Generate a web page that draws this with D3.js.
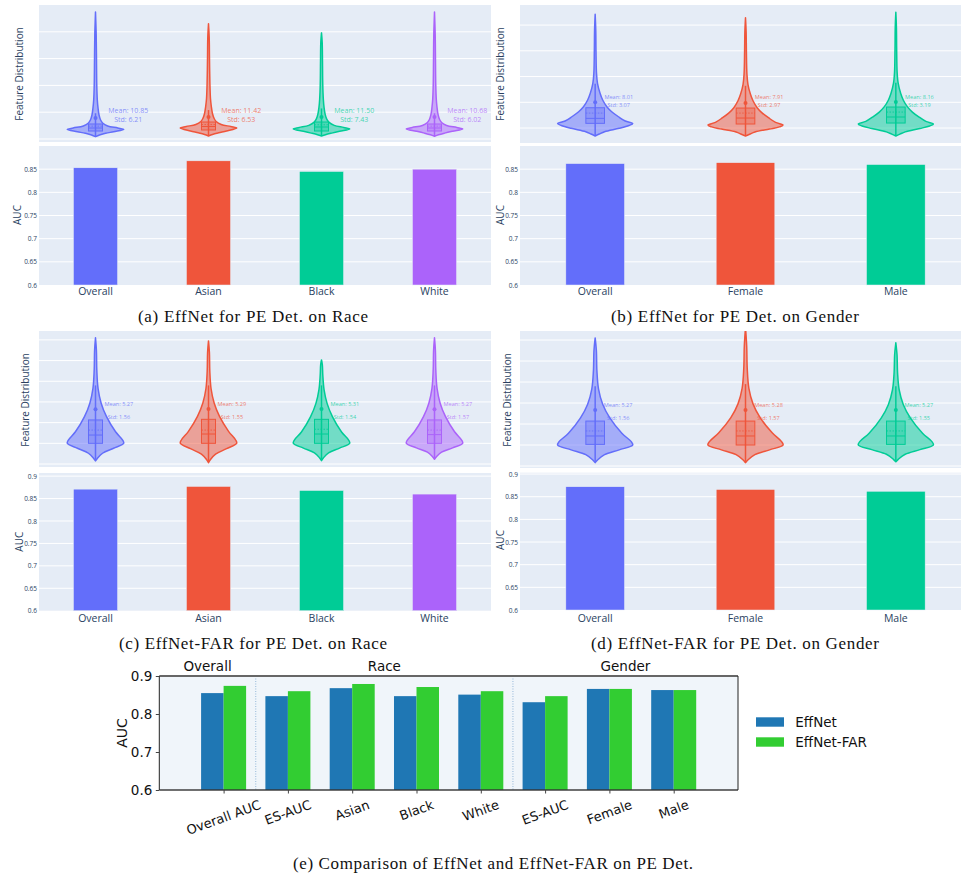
<!DOCTYPE html>
<html>
<head>
<meta charset="utf-8">
<script src="https://cdn.jsdelivr.net/npm/d3@7"></script>
<style>
body { margin: 0; background: #fff; }
svg { display: block; }
</style>
</head>
<body>
<script>
// ---- data ----
const pal = ["#636EFA", "#EF553B", "#00CC96", "#AB63FA"];

const catsRace = ["Overall", "Asian", "Black", "White"];
const catsGender = ["Overall", "Female", "Male"];

const aucA = [0.853, 0.868, 0.845, 0.850];
const aucB = [0.862, 0.864, 0.860];
const aucC = [0.871, 0.877, 0.868, 0.860];
const aucD = [0.872, 0.866, 0.862];

const meanA = ["10.85", "11.42", "11.50", "10.68"];
const stdA = ["6.21", "6.53", "7.43", "6.02"];
const meanB = ["8.01", "7.91", "8.16"];
const stdB = ["3.07", "2.97", "3.19"];
const meanC = ["5.27", "5.29", "5.31", "5.27"];
const stdC = ["1.56", "1.55", "1.54", "1.57"];
const meanD = ["5.27", "5.28", "5.27"];
const stdD = ["1.56", "1.57", "1.55"];

// violin outlines: [feature value, relative density]
const shapeA = [
  [[0.43,0],[0.75,0.14],[1.06,0.36],[1.36,0.64],[1.77,1],[2.05,0.79],[2.43,0.43],[2.99,0.25],[3.54,0.18],[4.48,0.125],[5.78,0.09],[7.28,0.064],[10.07,0.045],[14.74,0.035],[19.4,0.025],[23.7,0]],
  [[0.56,0],[0.84,0.14],[1.15,0.36],[1.49,0.64],[2.05,1],[2.33,0.79],[2.71,0.45],[3.27,0.27],[3.82,0.2],[4.76,0.14],[6.06,0.1],[7.56,0.07],[10.3,0.05],[15,0.035],[19,0.025],[21.5,0]],
  [[0.56,0],[0.8,0.14],[1.1,0.36],[1.45,0.64],[1.87,1],[2.15,0.79],[2.55,0.45],[3.1,0.27],[3.65,0.19],[4.6,0.13],[5.9,0.09],[7.4,0.065],[10.1,0.045],[14.5,0.035],[18,0.025],[19.8,0]],
  [[0.5,0],[0.78,0.14],[1.1,0.36],[1.45,0.64],[1.87,1],[2.15,0.79],[2.53,0.43],[3.09,0.25],[3.64,0.18],[4.58,0.125],[5.88,0.09],[7.38,0.064],[10.1,0.045],[14.7,0.035],[19.4,0.025],[23.7,0]]
];
const shapeB = [
  [[-1.55,0],[-1.17,0.11],[-0.72,0.25],[-0.06,0.64],[0.49,0.9],[0.87,1],[1.36,0.8],[2.19,0.62],[3.17,0.44],[4.14,0.31],[5.44,0.2],[6.74,0.13],[8.68,0.062],[10.7,0.035],[15.1,0.022],[19,0.016],[22.1,0]],
  [[-1.55,0],[-1.2,0.11],[-0.78,0.25],[-0.2,0.64],[0.22,0.9],[0.58,1],[1.1,0.8],[1.95,0.62],[2.95,0.44],[3.95,0.31],[5.3,0.2],[6.6,0.13],[8.5,0.065],[10.5,0.038],[14.8,0.024],[18.6,0.017],[21.4,0]],
  [[-1.55,0],[-1.18,0.11],[-0.75,0.25],[-0.1,0.64],[0.4,0.9],[0.78,1],[1.28,0.8],[2.12,0.62],[3.1,0.44],[4.1,0.31],[5.4,0.2],[6.7,0.13],[8.7,0.062],[10.8,0.035],[15.4,0.022],[19.5,0.016],[22.5,0]]
];
const shapeC = [
  [[0.15,0],[0.28,0.07],[0.52,0.25],[0.76,0.64],[1.0,1],[1.16,0.96],[1.56,0.71],[2.29,0.39],[2.94,0.2],[3.66,0.09],[4.55,0.046],[5.5,0.032],[6.1,0]],
  [[0.06,0],[0.22,0.07],[0.48,0.25],[0.74,0.64],[1.0,1],[1.16,0.96],[1.58,0.71],[2.3,0.39],[2.95,0.2],[3.65,0.09],[4.5,0.046],[5.4,0.032],[5.95,0]],
  [[0.16,0],[0.3,0.07],[0.54,0.25],[0.77,0.64],[1.0,1],[1.16,0.96],[1.55,0.71],[2.28,0.39],[2.92,0.2],[3.6,0.09],[4.3,0.046],[4.8,0.03],[5.03,0]],
  [[0.23,0],[0.35,0.07],[0.57,0.25],[0.78,0.64],[1.0,1],[1.16,0.96],[1.56,0.71],[2.29,0.39],[2.94,0.2],[3.66,0.09],[4.55,0.046],[5.5,0.032],[6.1,0]]
];
const shapeD = [
  [[0.16,0],[0.3,0.07],[0.54,0.25],[0.77,0.64],[1.0,1],[1.16,0.96],[1.56,0.71],[2.29,0.39],[2.94,0.2],[3.66,0.09],[4.55,0.046],[5.5,0.032],[6.1,0]],
  [[0.16,0],[0.3,0.07],[0.54,0.25],[0.77,0.64],[1.0,1],[1.16,0.96],[1.58,0.71],[2.3,0.39],[2.96,0.2],[3.7,0.09],[4.65,0.046],[5.7,0.032],[6.6,0]],
  [[0.2,0],[0.33,0.07],[0.56,0.25],[0.78,0.64],[1.0,1],[1.16,0.96],[1.56,0.71],[2.28,0.39],[2.92,0.2],[3.62,0.09],[4.45,0.046],[5.3,0.032],[5.87,0]]
];

// box stats: [lower whisker, q1, median, mean line, q3, upper whisker, mean dot]
const boxA = [
  [0.5, 1.49, 2.05, 2.4, 2.8, 4.8, 3.9],
  [0.6, 1.68, 2.33, 2.7, 3.17, 5.4, 4.1],
  [0.6, 1.49, 2.24, 2.65, 3.17, 5.7, 4.1],
  [0.55, 1.49, 2.05, 2.4, 2.8, 4.8, 4.1]
];
const boxB = [
  [-1.5, 0.91, 1.88, 2.9, 3.94, 8.6, 4.99],
  [-1.5, 0.78, 1.94, 2.9, 3.88, 8.2, 4.85],
  [-1.5, 0.97, 2.14, 3.1, 4.08, 8.8, 5.05]
];
const boxC = [
  [0.2, 1.0, 1.4, 1.64, 2.13, 3.8, 2.65],
  [0.1, 1.0, 1.45, 1.64, 2.16, 3.8, 2.66],
  [0.2, 1.0, 1.45, 1.68, 2.16, 3.8, 2.66],
  [0.25, 1.0, 1.42, 1.64, 2.13, 3.8, 2.65]
];
const boxD = [
  [0.2, 1.03, 1.43, 1.67, 2.14, 3.8, 2.67],
  [0.15, 1.0, 1.43, 1.67, 2.14, 3.9, 2.67],
  [0.2, 1.03, 1.43, 1.67, 2.14, 3.8, 2.67]
];

const ticks85 = [0.6, 0.65, 0.7, 0.75, 0.8, 0.85];
const ticks90 = [0.6, 0.65, 0.7, 0.75, 0.8, 0.85, 0.9];

// panel (e)
const cmpCats = ["Overall AUC", "ES-AUC", "Asian", "Black", "White", "ES-AUC", "Female", "Male"];
const effnet = [0.855, 0.847, 0.868, 0.847, 0.851, 0.831, 0.866, 0.863];
const effnetFar = [0.874, 0.860, 0.879, 0.871, 0.860, 0.847, 0.866, 0.863];
const groupNames = ["Overall", "Race", "Gender"];
const groupCenters = [-0.25, 2.5, 6.25];
const groupSplits = [0.5, 4.5];
const cmpTicks = [0.6, 0.7, 0.8, 0.9];

const W = 961, H = 875;
const svg = d3.select("body").append("svg").attr("width", W).attr("height", H);

const plFont = "'Open Sans', verdana, arial, sans-serif";
const plText = "#2a3f5f";
const plBg = "#E5ECF6";

let clipN = 0;

function plotlyPanel(p) {
  const g = svg.append("g");
  const xb = d3.scaleBand().domain(p.cats).range([p.x0, p.x1]);
  const bw = xb.bandwidth();
  const cx = i => xb(p.cats[i]) + bw / 2;

  // ---- violin subplot ----
  const yv = d3.scaleLinear().domain(p.vdom).range([p.vy1, p.vy0]);
  const wv = d3.scaleLinear().domain([0, 1]).range([0, bw * 0.25]);

  g.append("rect").attr("x", p.x0).attr("y", p.vy0)
    .attr("width", p.x1 - p.x0).attr("height", p.vy1 - p.vy0).attr("fill", plBg);
  g.selectAll(".vgrid").data(p.vgrid).enter().append("line")
    .attr("x1", p.x0).attr("x2", p.x1)
    .attr("y1", d => yv(d)).attr("y2", d => yv(d))
    .attr("stroke", "#fff").attr("stroke-width", 1);

  const cid = "clip" + (clipN++);
  g.append("clipPath").attr("id", cid).append("rect")
    .attr("x", p.x0).attr("y", p.vy0).attr("width", p.x1 - p.x0).attr("height", p.vy1 - p.vy0);
  const vg = g.append("g").attr("clip-path", "url(#" + cid + ")");

  p.shapes.forEach((shape, i) => {
    const col = pal[i];
    const c = cx(i);
    const area = d3.area().curve(d3.curveCatmullRom)
      .y(d => yv(d[0])).x0(d => c - wv(d[1])).x1(d => c + wv(d[1]));
    vg.append("path").attr("d", area(shape))
      .attr("fill", col).attr("fill-opacity", 0.5)
      .attr("stroke", col).attr("stroke-width", 1.5).attr("stroke-linejoin", "round");

    const b = p.boxes[i];
    const hw = bw * 0.062;
    vg.append("line").attr("x1", c).attr("x2", c)
      .attr("y1", yv(b[0])).attr("y2", yv(b[5]))
      .attr("stroke", col).attr("stroke-width", 1.5);
    vg.append("rect").attr("x", c - hw).attr("width", hw * 2)
      .attr("y", yv(b[4])).attr("height", yv(b[1]) - yv(b[4]))
      .attr("fill", col).attr("fill-opacity", 0.35)
      .attr("stroke", col).attr("stroke-width", 1);
    vg.append("line").attr("x1", c - hw).attr("x2", c + hw)
      .attr("y1", yv(b[2])).attr("y2", yv(b[2]))
      .attr("stroke", col).attr("stroke-width", 1);
    vg.append("line").attr("x1", c - hw).attr("x2", c + hw)
      .attr("y1", yv(b[3])).attr("y2", yv(b[3]))
      .attr("stroke", col).attr("stroke-width", 0.8).attr("stroke-dasharray", "1.5,1.5");
    vg.append("circle").attr("cx", c).attr("cy", yv(b[6])).attr("r", 2)
      .attr("fill", col);

    // mean / std annotation
    const a = p.ann;
    const ax = c + bw * a.dx, ay = yv(a.y);
    const t = g.append("text").attr("text-anchor", "middle")
      .attr("font-family", plFont).attr("font-size", a.fs + "px")
      .attr("fill", col).attr("fill-opacity", 0.75);
    t.append("tspan").attr("x", ax).attr("y", ay - a.gap / 2).attr("dy", "0.35em").text("Mean: " + p.means[i]);
    t.append("tspan").attr("x", ax).attr("y", ay + a.gap / 2).attr("dy", "0.35em").text("Std: " + p.stds[i]);
  });

  g.append("text").attr("transform", `translate(${p.fdX},${p.fdY}) rotate(-90)`)
    .attr("text-anchor", "middle").attr("dy", "0.35em")
    .attr("font-family", plFont).attr("font-size", "10px").attr("fill", plText)
    .text("Feature Distribution");

  // ---- bar subplot ----
  const yb = d3.scaleLinear().domain(p.bdom).range([p.by1, p.by0]);
  g.append("rect").attr("x", p.x0).attr("y", p.by0)
    .attr("width", p.x1 - p.x0).attr("height", p.by1 - p.by0).attr("fill", plBg);
  g.selectAll(".bgrid").data(p.bticks.filter(t => t > p.bdom[0])).enter().append("line")
    .attr("x1", p.x0).attr("x2", p.x1)
    .attr("y1", d => yb(d)).attr("y2", d => yb(d))
    .attr("stroke", "#fff").attr("stroke-width", 1);

  g.selectAll(".bar").data(p.auc).enter().append("rect")
    .attr("x", (d, i) => cx(i) - bw * 0.195).attr("width", bw * 0.39)
    .attr("y", d => yb(d)).attr("height", d => yb(p.bdom[0]) - yb(d))
    .attr("fill", (d, i) => pal[i])
    .attr("stroke", plBg).attr("stroke-width", 0.5);

  const yAx = g.append("g").attr("transform", `translate(${p.x0},0)`)
    .call(d3.axisLeft(yb).tickValues(p.bticks).tickSize(0).tickPadding(2).tickFormat(d => String(d)));
  yAx.select(".domain").remove();
  yAx.selectAll("text").attr("font-family", plFont).attr("font-size", "6.5px").attr("fill", plText);

  const xAx = g.append("g").attr("transform", `translate(0,${p.by1})`)
    .call(d3.axisBottom(xb).tickSize(0).tickPadding(0));
  xAx.select(".domain").remove();
  xAx.selectAll("text").attr("font-family", plFont).attr("font-size", "10.5px").attr("fill", plText)
    .attr("y", p.catDy).attr("dy", "0.35em");

  g.append("text").attr("transform", `translate(${p.aucX},${p.aucY}) rotate(-90)`)
    .attr("text-anchor", "middle").attr("dy", "0.35em")
    .attr("font-family", plFont).attr("font-size", "10px").attr("fill", plText)
    .text("AUC");

  caption(p.caption, p.capX, p.capY, p.capW);
}

function caption(txt, x, y, w) {
  svg.append("text").attr("x", x - w / 2).attr("y", y)
    .attr("textLength", w).attr("lengthAdjust", "spacing")
    .attr("font-family", "'Liberation Serif', 'Times New Roman', serif")
    .attr("font-size", "17px").attr("fill", "#111")
    .text(txt);
}

plotlyPanel({
  cats: catsRace, auc: aucA, shapes: shapeA, boxes: boxA, means: meanA, stds: stdA,
  x0: 39, x1: 491, vy0: 5, vy1: 142, vdom: [-0.56, 25], vgrid: [0, 5, 10, 15, 20],
  by0: 146, by1: 285, bdom: [0.6, 0.9], bticks: ticks85,
  ann: { dx: 0.29, y: 4.48, gap: 8.5, fs: 7 },
  fdX: 19, fdY: 74, aucX: 17, aucY: 215, catDy: 6.7,
  caption: "(a) EffNet for PE Det. on Race", capX: 253, capY: 322, capW: 230
});
plotlyPanel({
  cats: catsGender, auc: aucB, shapes: shapeB, boxes: boxB, means: meanB, stds: stdB,
  x0: 520, x1: 971, vy0: 5, vy1: 143, vdom: [-2.91, 23.9], vgrid: [0, 5, 10, 15, 20],
  by0: 146, by1: 285, bdom: [0.6, 0.9], bticks: ticks85,
  ann: { dx: 0.157, y: 5.3, gap: 8, fs: 5.6 },
  fdX: 500, fdY: 74, aucX: 500, aucY: 215, catDy: 6.7,
  caption: "(b) EffNet for PE Det. on Gender", capX: 735, capY: 322, capW: 248
});
plotlyPanel({
  cats: catsRace, auc: aucC, shapes: shapeC, boxes: boxC, means: meanC, stds: stdC,
  x0: 39, x1: 491, vy0: 331, vy1: 467, vdom: [-0.145, 6.43], vgrid: [0, 1, 2, 3, 4, 5, 6],
  by0: 473, by1: 610.7, bdom: [0.6, 0.907], bticks: ticks90,
  ann: { dx: 0.207, y: 2.59, gap: 13, fs: 5.6 },
  fdX: 25.7, fdY: 400, aucX: 19, aucY: 541.7, catDy: 7.6,
  caption: "(c) EffNet-FAR for PE Det. on Race", capX: 253, capY: 649, capW: 268
});
plotlyPanel({
  cats: catsGender, auc: aucD, shapes: shapeD, boxes: boxD, means: meanD, stds: stdD,
  x0: 520, x1: 971, vy0: 331, vy1: 468, vdom: [-0.095, 6.43], vgrid: [0, 1, 2, 3, 4, 5, 6],
  by0: 472.7, by1: 610, bdom: [0.6, 0.903], bticks: ticks90,
  ann: { dx: 0.153, y: 2.6, gap: 13, fs: 5.6 },
  fdX: 507, fdY: 400, aucX: 500, aucY: 540, catDy: 8.3,
  caption: "(d) EffNet-FAR for PE Det. on Gender", capX: 735, capY: 649, capW: 288
});

// ---- panel (e): matplotlib style comparison ----
(function () {
  const mpFont = "'DejaVu Sans', sans-serif";
  const L = 159.3, R = 738, T = 676, B = 790;
  const xe = d3.scaleLinear().domain([-1, 8]).range([L, R]);
  const ye = d3.scaleLinear().domain([0.6, 0.9]).range([B, T]);
  const g = svg.append("g");
  const bwid = 0.35;

  g.append("rect").attr("x", L).attr("y", T).attr("width", R - L).attr("height", B - T)
    .attr("fill", "#f0f5fa");

  g.selectAll(".sep").data(groupSplits).enter().append("line")
    .attr("x1", d => xe(d)).attr("x2", d => xe(d)).attr("y1", T).attr("y2", B)
    .attr("stroke", "#7fa8d0").attr("stroke-width", 0.8).attr("stroke-dasharray", "1,1.5");

  g.selectAll(".b1").data(effnet).enter().append("rect")
    .attr("x", (d, i) => xe(i - bwid)).attr("width", xe(bwid) - xe(0))
    .attr("y", d => ye(d)).attr("height", d => B - ye(d)).attr("fill", "#1f77b4");
  g.selectAll(".b2").data(effnetFar).enter().append("rect")
    .attr("x", (d, i) => xe(i)).attr("width", xe(bwid) - xe(0))
    .attr("y", d => ye(d)).attr("height", d => B - ye(d)).attr("fill", "#32cd32");

  // spines
  g.append("line").attr("x1", L).attr("x2", R).attr("y1", T).attr("y2", T)
    .attr("stroke", "#666").attr("stroke-width", 2);
  g.append("line").attr("x1", L).attr("x2", R).attr("y1", B).attr("y2", B)
    .attr("stroke", "#333").attr("stroke-opacity", 0.7).attr("stroke-width", 2);
  g.append("line").attr("x1", L).attr("x2", L).attr("y1", T).attr("y2", B)
    .attr("stroke", "#222").attr("stroke-width", 1);
  g.append("line").attr("x1", R).attr("x2", R).attr("y1", T).attr("y2", B)
    .attr("stroke", "#222").attr("stroke-width", 1);

  const yAx = g.append("g").attr("transform", `translate(${L},0)`)
    .call(d3.axisLeft(ye).tickValues(cmpTicks).tickSize(3.5).tickPadding(3.5).tickFormat(d3.format(".1f")));
  yAx.select(".domain").remove();
  yAx.selectAll("line").attr("stroke", "#444");
  yAx.selectAll("text").attr("font-family", mpFont).attr("font-size", "13.5px").attr("fill", "#111");

  const xAx = g.append("g").attr("transform", `translate(0,${B})`)
    .call(d3.axisBottom(xe).tickValues(d3.range(cmpCats.length)).tickSize(3.5).tickFormat(""));
  xAx.select(".domain").remove();
  xAx.selectAll("line").attr("stroke", "#444");

  // rotated category labels, bbox centred under each tick
  const ang = 20 * Math.PI / 180;
  const fs = 13;
  cmpCats.forEach((c, i) => {
    const t = g.append("text").attr("text-anchor", "middle").attr("dy", "0.35em")
      .attr("font-family", mpFont).attr("font-size", fs + "px").attr("fill", "#111").text(c);
    const w = t.node().getComputedTextLength();
    const hh = w * Math.sin(ang) + fs * 1.16 * Math.cos(ang);
    t.attr("transform", `translate(${xe(i)},${B + 7 + hh / 2}) rotate(-20)`);
  });

  g.selectAll(".grp").data(groupNames).enter().append("text")
    .attr("x", (d, i) => xe(groupCenters[i])).attr("y", 671)
    .attr("text-anchor", "middle")
    .attr("font-family", mpFont).attr("font-size", "13.5px").attr("fill", "#111")
    .text(d => d);

  g.append("text").attr("transform", `translate(121.7,733) rotate(-90)`)
    .attr("text-anchor", "middle").attr("dy", "0.35em")
    .attr("font-family", mpFont).attr("font-size", "14px").attr("fill", "#111").text("AUC");

  // legend
  const legNames = ["EffNet", "EffNet-FAR"];
  const legCols = ["#1f77b4", "#32cd32"];
  legNames.forEach((n, i) => {
    const ly = 722 + i * 20;
    g.append("rect").attr("x", 756).attr("y", ly - 4.7).attr("width", 28).attr("height", 9.4)
      .attr("fill", legCols[i]);
    g.append("text").attr("x", 795.3).attr("y", ly).attr("dy", "0.35em")
      .attr("font-family", mpFont).attr("font-size", "13.5px").attr("fill", "#111").text(n);
  });

  caption("(e) Comparison of EffNet and EffNet-FAR on PE Det.", 493, 869, 400);
})();
</script>
</body>
</html>
